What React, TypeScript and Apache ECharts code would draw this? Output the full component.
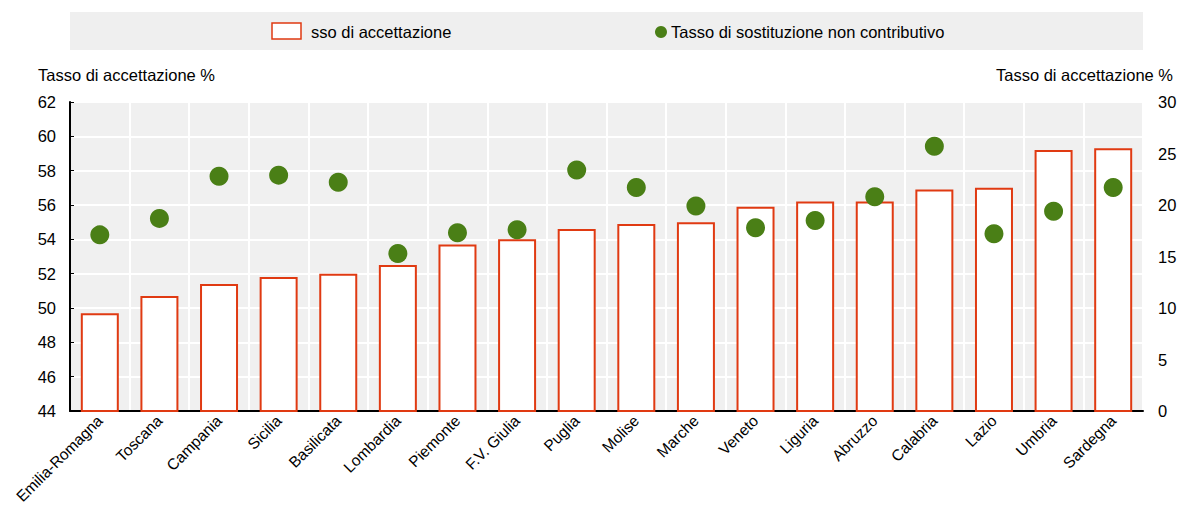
import React, { useEffect, useRef } from "react";
import * as echarts from "echarts";

const categories = ["Emilia-Romagna","Toscana","Campania","Sicilia","Basilicata","Lombardia","Piemonte","F.V. Giulia","Puglia","Molise","Marche","Veneto","Liguria","Abruzzo","Calabria","Lazio","Umbria","Sardegna"];
const acceptanceRate = [49.7,50.7,51.4,51.8,52.0,52.5,53.7,54.0,54.6,54.9,55.0,55.9,56.2,56.2,56.9,57.0,59.2,59.3];
const replacementRate = [17.1,18.7,22.8,22.9,22.2,15.3,17.3,17.6,23.4,21.7,19.9,17.8,18.5,20.8,25.7,17.2,19.4,21.7];
const leftTitle = "Tasso di accettazione %";
const rightTitle = "Tasso di accettazione %";
const legendBar = "sso di accettazione";
const legendDot = "Tasso di sostituzione non contributivo";

const RED = "#e03a12";
const GREEN = "#4a7f16";
const FONT = "Liberation Sans, Arial, sans-serif";

export default function App() {
  const ref = useRef<HTMLDivElement>(null);
  useEffect(() => {
    const chart = echarts.init(ref.current!, null, { renderer: "svg" });
    chart.setOption({
      animation: false,
      textStyle: { fontFamily: FONT },
      grid: { left: 70, right: 34, top: 102, bottom: 101, show: true, backgroundColor: "#f0f0f0", borderWidth: 0, containLabel: false, outerBoundsMode: "none" },
      graphic: [
        { type: "rect", shape: { x: 70, y: 12, width: 1073, height: 38 }, style: { fill: "#efefef" } },
        { type: "rect", shape: { x: 272, y: 23, width: 29, height: 16 }, style: { fill: "#fff", stroke: RED, lineWidth: 1.5 } },
        { type: "text", x: 311, y: 32, style: { text: legendBar, font: `16.5px ${FONT}`, fill: "#000", verticalAlign: "middle" } },
        { type: "circle", shape: { cx: 661, cy: 32, r: 6 }, style: { fill: GREEN } },
        { type: "text", x: 671, y: 32, style: { text: legendDot, font: `16.5px ${FONT}`, fill: "#000", verticalAlign: "middle" } },
        { type: "text", x: 38, y: 75, style: { text: leftTitle, font: `16.5px ${FONT}`, fill: "#000", verticalAlign: "middle" } },
        { type: "text", x: 1173, y: 75, style: { text: rightTitle, font: `16.5px ${FONT}`, fill: "#000", verticalAlign: "middle", align: "right" } },
      ],
      xAxis: {
        type: "category",
        data: categories,
        axisLine: { lineStyle: { color: "#000", width: 2 } },
        axisTick: { show: false },
        splitLine: { show: true, lineStyle: { color: "#fff", width: 2 } },
        axisLabel: { rotate: 45, fontSize: 15.5, color: "#000", margin: 7, interval: 0 },
      },
      yAxis: [
        {
          type: "value", min: 44, max: 62, interval: 2,
          axisLine: { show: true, lineStyle: { color: "#000", width: 2 } },
          axisTick: { show: true, inside: true, length: 4, lineStyle: { color: "#000" } },
          splitLine: { lineStyle: { color: "#fff", width: 2 } },
          axisLabel: { fontSize: 16.5, color: "#000", margin: 14 },
        },
        {
          type: "value", min: 0, max: 30, interval: 5, position: "right",
          axisLine: { show: false },
          axisTick: { show: false },
          splitLine: { show: false },
          axisLabel: { fontSize: 16.5, color: "#000", margin: 15 },
        },
      ],
      series: [
        {
          type: "bar", data: acceptanceRate, yAxisIndex: 0, barWidth: 38,
          itemStyle: { color: "#fff", borderColor: RED, borderWidth: 2 },
        },
        {
          type: "scatter", data: replacementRate, yAxisIndex: 1, symbolSize: 19,
          itemStyle: { color: GREEN, opacity: 1 },
        },
      ],
    });
    return () => chart.dispose();
  }, []);
  return <div ref={ref} style={{ position: "absolute", left: 0, top: 0, width: 1177, height: 512 }} />;
}
